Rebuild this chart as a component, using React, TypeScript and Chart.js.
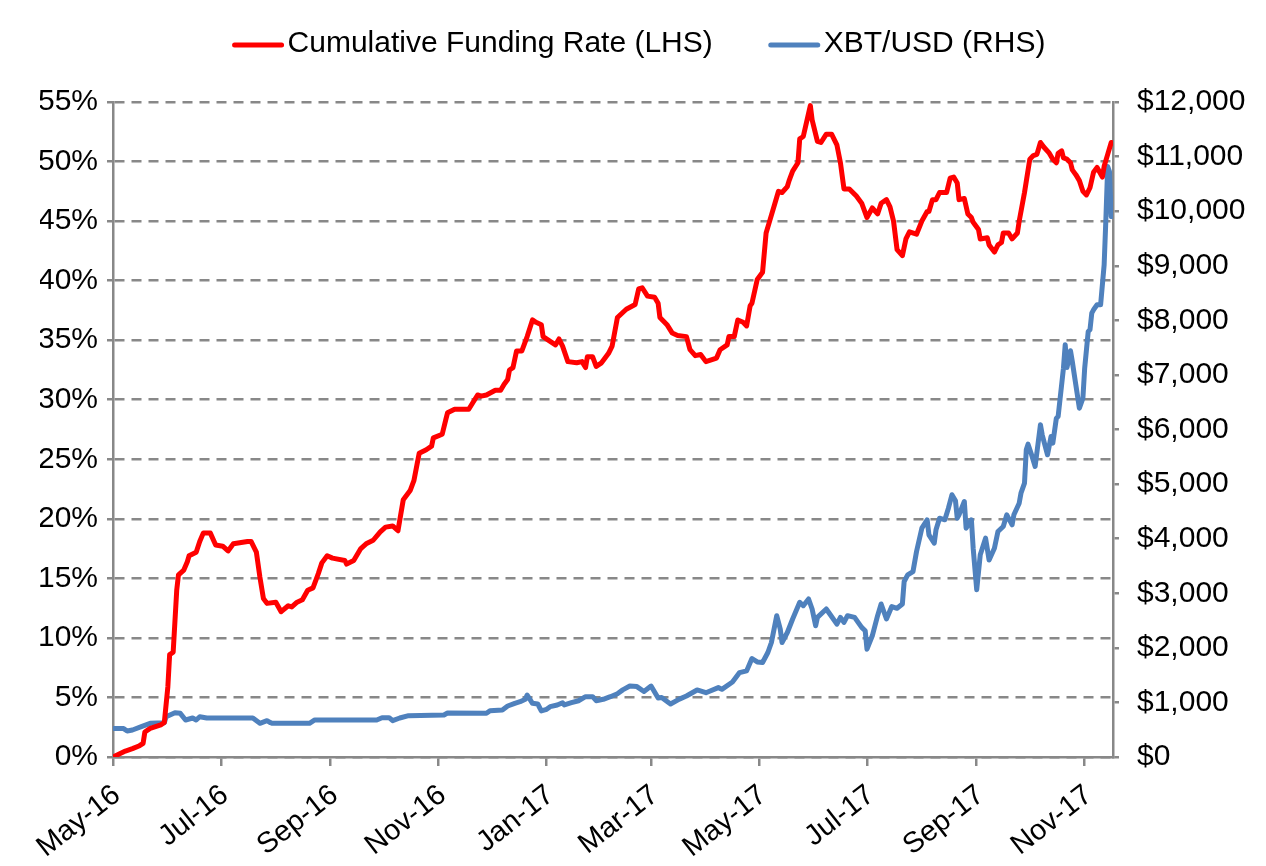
import React, { useEffect, useRef } from 'react';
import { Chart, registerables } from 'chart.js';

Chart.register(...registerables);

// Days counted from 1 May 2016
const monthTickDays = [0, 61, 123, 184, 245, 304, 365, 426, 488, 549];
const monthTickLabels = ['May-16', 'Jul-16', 'Sep-16', 'Nov-16', 'Jan-17', 'Mar-17', 'May-17', 'Jul-17', 'Sep-17', 'Nov-17'];

const fundingDays = [
  0, 7, 11, 15, 17, 18, 21, 27, 29, 31,
  32, 34, 36, 37, 40, 42, 43, 47, 49, 51,
  55, 58, 62, 65, 68, 76, 78, 81, 83, 85,
  87, 92, 95, 99, 101, 104, 107, 110, 113, 116,
  118, 121, 124, 131, 132, 136, 140, 143, 147, 151,
  154, 158, 161, 164, 168, 170, 173, 177, 180, 181,
  186, 188, 189, 193, 201, 206, 208, 211, 216, 219,
  221, 223, 224, 226, 228, 231, 234, 237, 239, 242,
  243, 247, 250, 252, 254, 257, 262, 265, 267, 268,
  271, 273, 276, 280, 282, 285, 290, 295, 297, 299,
  302, 306, 308, 309, 313, 316, 319, 324, 326, 329,
  332, 335, 341, 343, 347, 348, 351, 353, 356, 358,
  360, 361, 364, 367, 369, 371, 374, 376, 378, 381,
  382, 384, 387, 388, 390, 394, 395, 398, 400, 403,
  406, 409, 411, 412, 413, 416, 420, 423, 426, 429,
  432, 434, 437, 439, 441, 443, 446, 448, 450, 454,
  457, 460, 461, 463, 465, 467, 471, 473, 475, 477,
  478, 481, 483, 485, 486, 489, 490, 494, 495, 498,
  500, 502, 503, 506, 508, 511, 512, 515, 518, 520,
  522, 524, 526, 529, 531, 533, 534, 536, 537, 539,
  541, 542, 544, 546, 548, 550, 552, 554, 556, 559,
  560, 562, 564,
];

const fundingRate = [
  0.0, 0.5, 0.7, 0.95, 1.15, 2.1, 2.4, 2.7, 2.9, 5.9,
  8.6, 8.8, 14.0, 15.3, 15.7, 16.4, 16.9, 17.2, 18.1, 18.8,
  18.8, 17.8, 17.7, 17.3, 17.9, 18.1, 18.1, 17.2, 15.1, 13.3,
  12.9, 13.0, 12.2, 12.7, 12.6, 13.0, 13.2, 14.0, 14.2, 15.4,
  16.3, 16.9, 16.7, 16.5, 16.2, 16.5, 17.5, 17.9, 18.2, 18.9,
  19.3, 19.4, 19.0, 21.6, 22.4, 23.2, 25.5, 25.8, 26.1, 26.8,
  27.1, 28.3, 28.9, 29.2, 29.2, 30.4, 30.3, 30.4, 30.8, 30.8,
  31.3, 31.7, 32.5, 32.7, 34.1, 34.1, 35.3, 36.7, 36.5, 36.3,
  35.3, 34.9, 34.6, 35.1, 34.5, 33.2, 33.1, 33.2, 32.7, 33.6,
  33.6, 32.8, 33.1, 33.9, 34.5, 36.9, 37.6, 38.0, 39.3, 39.4,
  38.7, 38.6, 38.1, 36.9, 36.3, 35.6, 35.4, 35.3, 34.2, 33.7,
  33.8, 33.2, 33.5, 34.2, 34.6, 35.3, 35.3, 36.7, 36.5, 36.2,
  37.9, 38.1, 40.1, 40.7, 44.0, 45.0, 46.5, 47.5, 47.4, 47.9,
  48.4, 49.2, 49.9, 51.9, 52.1, 54.7, 53.5, 51.7, 51.6, 52.3,
  52.3, 51.4, 49.9, 48.8, 47.7, 47.7, 47.1, 46.5, 45.3, 46.1,
  45.6, 46.5, 46.8, 46.2, 45.0, 42.6, 42.1, 43.5, 44.1, 43.9,
  45.0, 45.8, 45.8, 46.8, 46.8, 47.4, 47.4, 48.6, 48.7, 48.2,
  46.8, 46.9, 45.6, 45.3, 44.9, 44.3, 43.5, 43.6, 43.0, 42.4,
  43.0, 43.2, 44.0, 44.0, 43.5, 44.0, 45.0, 47.4, 50.2, 50.5,
  50.6, 51.6, 51.2, 50.7, 50.2, 49.9, 50.7, 50.9, 50.3, 50.2,
  49.9, 49.3, 48.9, 48.4, 47.5, 47.2, 47.8, 49.1, 49.5, 48.7,
  49.6, 50.6, 51.6,
];

const btcDays = [
  0, 6, 8, 11, 16, 21, 29, 30, 35, 38,
  41, 45, 47, 49, 53, 79, 83, 87, 89, 90,
  111, 114, 149, 152, 156, 158, 162, 167, 187, 189,
  211, 213, 220, 223, 227, 230, 233, 234, 237, 240,
  242, 245, 247, 251, 254, 255, 259, 263, 267, 271,
  273, 277, 281, 285, 288, 292, 296, 300, 304, 308,
  310, 315, 320, 324, 330, 335, 342, 344, 350, 354,
  358, 361, 364, 367, 370, 372, 375, 377, 378, 381,
  384, 388, 390, 393, 395, 397, 398, 403, 405, 409,
  411, 413, 415, 419, 423, 425, 426, 429, 432, 434,
  437, 440, 443, 446, 447, 449, 452, 454, 457, 460,
  461, 464, 465, 467, 470, 472, 474, 476, 477, 478,
  481, 482, 485, 486, 488, 490, 493, 495, 498, 500,
  503, 505, 508, 509, 512, 513, 515, 516, 517, 519,
  521, 524, 525, 528, 530, 531, 533, 534, 537, 538,
  539, 541, 542, 544, 546, 548, 549, 551, 552, 553,
  554, 556, 558, 560, 561, 562, 563, 564,
];

const btcPrice = [
  520, 520, 476, 495, 555, 617, 628, 738, 812, 800,
  678, 714, 678, 738, 714, 714, 617, 665, 628, 617,
  617, 678, 678, 720, 720, 665, 714, 757, 770, 805,
  800, 848, 861, 934, 983, 1013, 1057, 1136, 983, 971,
  843, 874, 922, 953, 995, 953, 995, 1031, 1105, 1105,
  1031, 1057, 1105, 1160, 1230, 1300, 1290, 1200, 1300, 1080,
  1090, 970, 1060, 1118, 1228, 1178, 1271, 1240, 1374, 1546,
  1578, 1805, 1742, 1731, 1915, 2098, 2589, 2343, 2098, 2281,
  2528, 2834, 2772, 2895, 2712, 2404, 2558, 2712, 2620, 2435,
  2558, 2466, 2589, 2558, 2374, 2312, 1975, 2221, 2589, 2803,
  2528, 2757, 2724, 2803, 3215, 3338, 3398, 3765, 4192, 4346,
  4071, 3917, 4162, 4375, 4346, 4558, 4804, 4694, 4375, 4437,
  4681, 4192, 4346, 3826, 3063, 3705, 4009, 3609, 3826, 4132,
  4223, 4437, 4254, 4437, 4650, 4833, 5017, 5628, 5731, 5537,
  5323, 6087, 5903, 5537, 5872, 5749, 6207, 6238, 7123, 7552,
  7136, 7442, 7246, 6819, 6390, 6574, 7123, 7796, 7827, 8131,
  8193, 8285, 8285, 9018, 9872, 10819, 10727, 9900,
];

const seriesNames = ['Cumulative Funding Rate (LHS)', 'XBT/USD (RHS)'];

const GRID = '#888888';
const FONT = 'Liberation Sans';

// Legend drawn with line swatches, Excel style
const lineLegend = {
  id: 'lineLegend',
  afterDraw(chart: any) {
    const ctx = chart.ctx;
    ctx.save();
    ctx.font = `30px "${FONT}", Arial, sans-serif`;
    ctx.textBaseline = 'middle';
    ctx.textAlign = 'left';
    const lineLen = 47;
    const textGap = 6;
    const itemGap = 58;
    const items = chart.data.datasets.map((ds: any) => ({
      text: ds.label,
      color: ds.borderColor,
      w: ctx.measureText(ds.label).width,
    }));
    const total = items.reduce((s: number, it: any) => s + lineLen + textGap + it.w, 0) + itemGap * (items.length - 1);
    let x = chart.width / 2 - total / 2 + 7;
    const y = 44;
    items.forEach((it: any) => {
      ctx.strokeStyle = it.color;
      ctx.lineWidth = 5;
      ctx.lineCap = 'round';
      ctx.beginPath();
      ctx.moveTo(x, y + 1);
      ctx.lineTo(x + lineLen, y + 1);
      ctx.stroke();
      ctx.fillStyle = '#000';
      ctx.fillText(it.text, x + lineLen + textGap, y);
      x += lineLen + textGap + it.w + itemGap;
    });
    ctx.restore();
  },
};

export default function App() {
  const canvasRef = useRef<HTMLCanvasElement | null>(null);

  useEffect(() => {
    document.body.style.margin = '0';
    const canvas = canvasRef.current;
    if (!canvas) return;
    const chart = new Chart(canvas, {
      type: 'line',
      data: {
        datasets: [
          {
            label: seriesNames[0],
            data: fundingDays.map((d, i) => ({ x: d, y: fundingRate[i] })),
            borderColor: '#ff0000',
            backgroundColor: '#ff0000',
            borderWidth: 5,
            pointRadius: 0,
            tension: 0,
            borderJoinStyle: 'round',
            borderCapStyle: 'round',
            yAxisID: 'y',
          },
          {
            label: seriesNames[1],
            data: btcDays.map((d, i) => ({ x: d, y: btcPrice[i] })),
            borderColor: '#4f81bd',
            backgroundColor: '#4f81bd',
            borderWidth: 5,
            pointRadius: 0,
            tension: 0,
            borderJoinStyle: 'round',
            borderCapStyle: 'round',
            yAxisID: 'y1',
          },
        ],
      },
      options: {
        animation: false,
        responsive: true,
        maintainAspectRatio: false,
        layout: { padding: { top: 102, left: 40, right: 17, bottom: 0 } },
        plugins: {
          legend: { display: false },
          tooltip: { enabled: false },
        },
        scales: {
          x: {
            type: 'linear',
            min: 0,
            max: 565,
            afterBuildTicks: (scale: any) => {
              scale.ticks = monthTickDays.map((v) => ({ value: v }));
            },
            afterFit: (scale: any) => {
              scale.paddingLeft = 0;
              scale.paddingRight = 0;
              scale.height = 109;
            },
            ticks: {
              autoSkip: false,
              maxRotation: 38,
              minRotation: 38,
              padding: 12,
              labelOffset: 4,
              color: '#000',
              font: { family: FONT, size: 29 },
              callback: (value: any) => {
                const idx = monthTickDays.indexOf(Number(value));
                return idx >= 0 ? monthTickLabels[idx] : '';
              },
            },
            grid: { drawOnChartArea: false, drawTicks: true, tickLength: 9, color: GRID, lineWidth: 2.5 },
            border: { color: GRID, width: 2.5 },
          },
          y: {
            position: 'left',
            min: 0,
            max: 55,
            afterFit: (scale: any) => {
              scale.width = 73;
            },
            ticks: {
              stepSize: 5,
              padding: 9,
              color: '#000',
              font: { family: FONT, size: 30 },
              callback: (v: any) => `${v}%`,
            },
            grid: { color: GRID, lineWidth: 2.5, tickLength: 6, drawTicks: true },
            border: { dash: [10, 7], color: GRID, width: 2.5 },
          },
          y1: {
            position: 'right',
            min: 0,
            max: 12000,
            afterFit: (scale: any) => {
              scale.width = 136;
            },
            ticks: {
              stepSize: 1000,
              padding: 18,
              color: '#000',
              font: { family: FONT, size: 30 },
              callback: (v: any) => '$' + Number(v).toLocaleString('en-US'),
            },
            grid: { drawOnChartArea: false, drawTicks: true, tickLength: 6, color: GRID, lineWidth: 2.5 },
            border: { color: GRID, width: 2.5 },
          },
        },
      },
      plugins: [lineLegend],
    });
    return () => chart.destroy();
  }, []);

  return (
    <div style={{ position: 'relative', width: 1266, height: 866 }}>
      <canvas ref={canvasRef} />
    </div>
  );
}
